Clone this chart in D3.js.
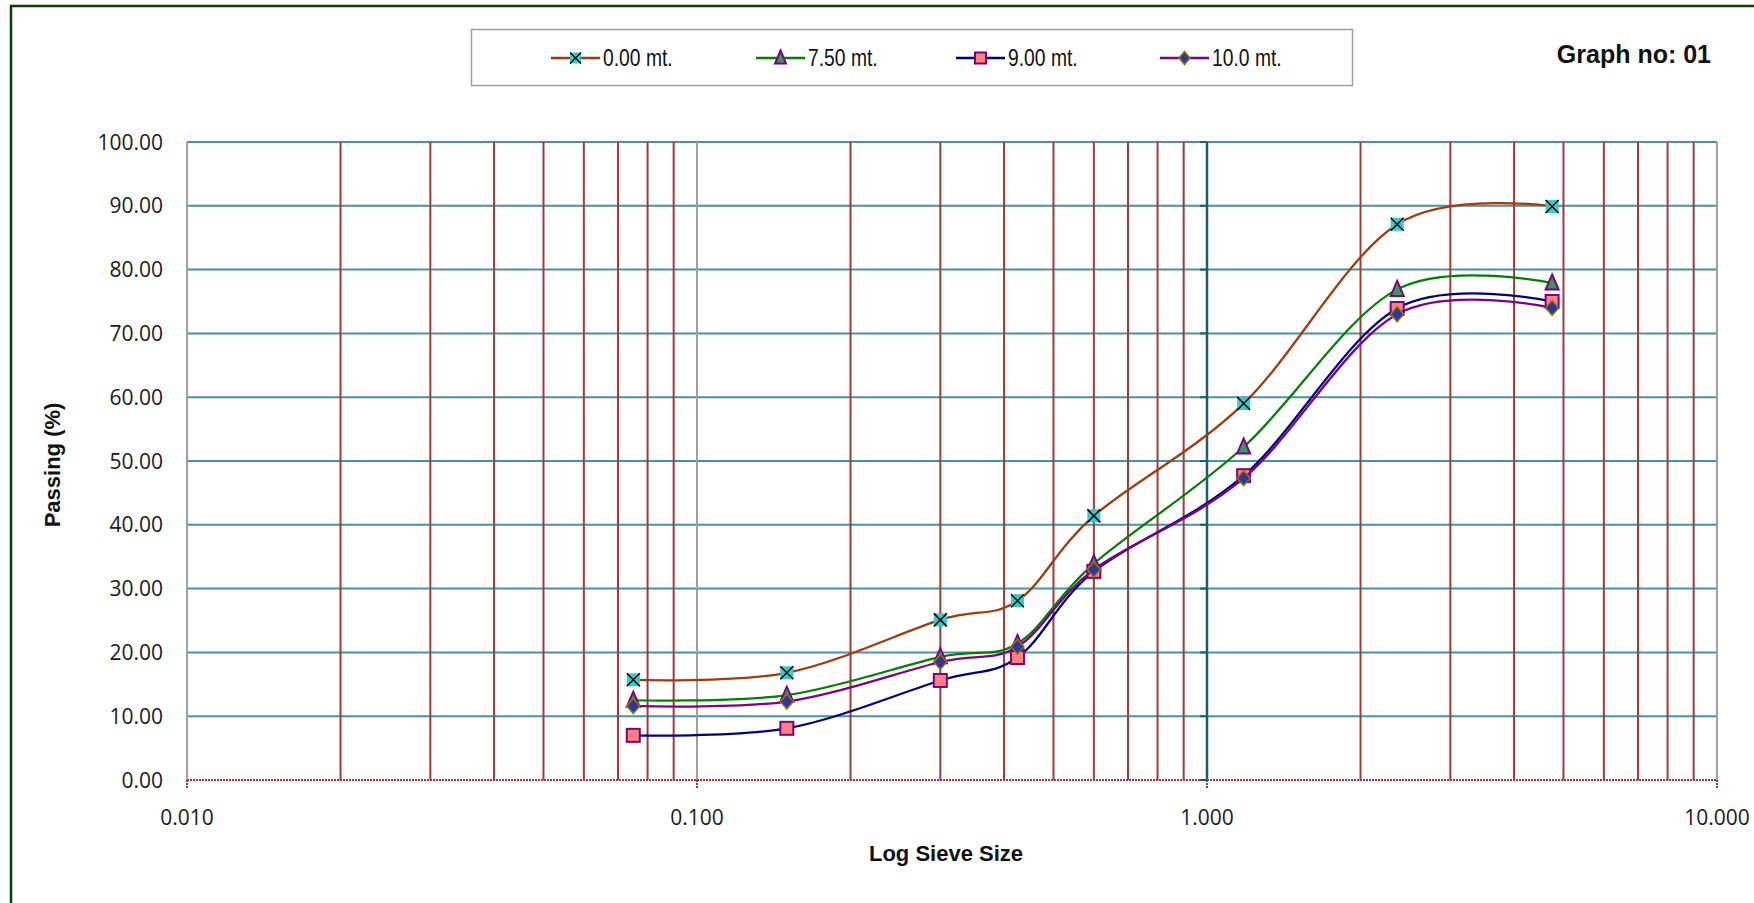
<!DOCTYPE html>
<html>
<head>
<meta charset="utf-8">
<script src="https://cdn.jsdelivr.net/npm/d3@7"></script>
<style>
  html, body { margin: 0; padding: 0; background: #ffffff; }
  svg { display: block; }
</style>
</head>
<body>
<svg id="chart" width="1754" height="903"></svg>
<script>
// ---- data ----
const sieveSizes = [0.075, 0.150, 0.300, 0.425, 0.600, 1.18, 2.36, 4.75];
const seriesNames = ["0.00 mt.", "7.50 mt.", "9.00 mt.", "10.0 mt."];
const passing000 = [15.7, 16.8, 25.1, 28.1, 41.4, 59.0, 87.1, 89.9];
const passing750 = [12.5, 13.3, 19.3, 21.4, 33.9, 52.2, 76.9, 77.9];
const passing900 = [7.0, 8.1, 15.6, 19.2, 32.7, 47.7, 73.9, 75.0];
const passing1000 = [11.6, 12.3, 18.5, 20.9, 33.0, 47.3, 73.0, 74.0];
const xMajorTicks = [0.01, 0.1, 1, 10];
const yTickLabels = ["0.00","10.00","20.00","30.00","40.00","50.00","60.00","70.00","80.00","90.00","100.00"];
const chartTitle = "Graph no: 01";
const xTitle = "Log Sieve Size";
const yTitle = "Passing (%)";

// ---- styles ----
const styles = [
  { line: "#A33A0B", marker: "x", fill: "#33CCCC", stroke: "#000000" },
  { line: "#008000", marker: "tri", fill: "#339966", stroke: "#800080" },
  { line: "#000080", marker: "sq", fill: "#FF8080", stroke: "#800080" },
  { line: "#800080", marker: "dia", fill: "#333399", stroke: "#808000" }
];
const seriesValues = [passing000, passing750, passing900, passing1000];

const svg = d3.select("#chart");
const L = 187, R = 1717, T = 142, B = 780;
const x = d3.scaleLog().domain([0.01, 10]).range([L, R]);
const y = d3.scaleLinear().domain([0, 100]).range([B, T]);

svg.append("rect").attr("x", 0).attr("y", 0).attr("width", 1754).attr("height", 903).attr("fill", "#fff");
// outer frame
svg.append("rect").attr("x", 11).attr("y", 6).attr("width", 1754).attr("height", 1000)
  .attr("fill", "none").attr("stroke", "#0B3D0B").attr("stroke-width", 2.5);

const g = svg.append("g");

// horizontal gridlines
const yTicks = y.ticks(10);
g.selectAll(".hg").data(yTicks.filter(d => d > 0)).enter().append("line")
  .attr("x1", L).attr("x2", R).attr("y1", d => y(d)).attr("y2", d => y(d))
  .attr("stroke", "#4A92A3").attr("stroke-width", 2);

// vertical gridlines
const allX = x.ticks();
const isMajor = d => Math.abs(Math.log10(d) - Math.round(Math.log10(d))) < 1e-9;
g.selectAll(".vmin").data(allX.filter(d => !isMajor(d))).enter().append("line")
  .attr("x1", d => x(d)).attr("x2", d => x(d)).attr("y1", T).attr("y2", B)
  .attr("stroke", "#A23A3A").attr("stroke-width", 2);
g.selectAll(".vmaj").data(xMajorTicks.filter(d => d !== 1)).enter().append("line")
  .attr("x1", d => x(d)).attr("x2", d => x(d)).attr("y1", T).attr("y2", B)
  .attr("stroke", "#A0A0A0").attr("stroke-width", 2);

// x axis (dotted red) at 0
g.append("line").attr("x1", L).attr("x2", R).attr("y1", y(0)).attr("y2", y(0))
  .attr("stroke", "#B03535").attr("stroke-width", 2).attr("stroke-dasharray", "2,1");
g.selectAll(".xt").data(xMajorTicks).enter().append("line")
  .attr("x1", d => x(d)).attr("x2", d => x(d)).attr("y1", y(0)).attr("y2", y(0) + 8)
  .attr("stroke", "#B03535").attr("stroke-width", 2).attr("stroke-dasharray", "2,1");

// y axis line at 1.0 with ticks
g.append("line").attr("x1", x(1)).attr("x2", x(1)).attr("y1", T).attr("y2", B)
  .attr("stroke", "#1F5B6A").attr("stroke-width", 2.5);
g.selectAll(".yt").data(yTicks).enter().append("line")
  .attr("x1", x(1) - 7).attr("x2", x(1)).attr("y1", d => y(d)).attr("y2", d => y(d))
  .attr("stroke", "#1F5B6A").attr("stroke-width", 2);

// tick labels
const tickFont = "'Open Sans', 'Noto Sans', sans-serif";
g.selectAll(".yl").data(yTicks).enter().append("text")
  .attr("x", 163).attr("y", d => y(d)).attr("dy", "0.36em")
  .attr("text-anchor", "end").attr("font-family", tickFont).attr("font-size", 21)
  .attr("fill", "#1a1a1a").text((d, i) => yTickLabels[i]);
g.selectAll(".xl").data(xMajorTicks).enter().append("text")
  .attr("x", d => x(d)).attr("y", 825)
  .attr("text-anchor", "middle").attr("font-family", tickFont).attr("font-size", 21)
  .attr("fill", "#1a1a1a").text(d => d3.format(".3f")(d));

// axis titles
const titleFont = "'Liberation Sans', Arial, sans-serif";
svg.append("text").attr("x", (L + R) / 2 - 6).attr("y", 861).attr("text-anchor", "middle")
  .attr("font-family", titleFont).attr("font-weight", "bold").attr("font-size", 22)
  .attr("fill", "#111").text(xTitle);
svg.append("text").attr("transform", `translate(60,${(T + B) / 2 + 4}) rotate(-90)`)
  .attr("text-anchor", "middle").attr("font-family", titleFont).attr("font-weight", "bold")
  .attr("font-size", 22).attr("fill", "#111").text(yTitle);
svg.append("text").attr("x", 1711).attr("y", 63).attr("text-anchor", "end")
  .attr("font-family", titleFont).attr("font-weight", "bold").attr("font-size", 25)
  .attr("fill", "#111").text(chartTitle);

// marker drawing
function drawMarker(sel, st, cx, cy, s) {
  if (st.marker === "x") {
    const h = s / 2;
    sel.append("rect").attr("x", cx - h).attr("y", cy - h).attr("width", s).attr("height", s).attr("fill", st.fill);
    sel.append("path").attr("d", `M${cx - h},${cy - h}L${cx + h},${cy + h}M${cx + h},${cy - h}L${cx - h},${cy + h}`)
      .attr("stroke", st.stroke).attr("stroke-width", 1.5);
  } else if (st.marker === "tri") {
    const h = s / 2 + 1;
    sel.append("path").attr("d", `M${cx},${cy - h - 1}L${cx + h - 1},${cy + h - 1}L${cx - h + 1},${cy + h - 1}Z`)
      .attr("fill", st.fill).attr("stroke", st.stroke).attr("stroke-width", 2);
  } else if (st.marker === "sq") {
    const h = s / 2;
    sel.append("rect").attr("x", cx - h).attr("y", cy - h).attr("width", s).attr("height", s)
      .attr("fill", st.fill).attr("stroke", st.stroke).attr("stroke-width", 2);
  } else {
    const h = s / 2 + 1;
    sel.append("path").attr("d", `M${cx},${cy - h}L${cx + h - 1},${cy}L${cx},${cy + h}L${cx - h + 1},${cy}Z`)
      .attr("fill", st.fill).attr("stroke", st.stroke).attr("stroke-width", 1.5);
  }
}

// series
const line = d3.line().x(d => x(d[0])).y(d => y(d[1])).curve(d3.curveCatmullRom.alpha(0));
seriesValues.forEach((vals, i) => {
  const pts = sieveSizes.map((s, j) => [s, vals[j]]);
  const sg = g.append("g");
  sg.append("path").attr("d", line(pts)).attr("fill", "none")
    .attr("stroke", styles[i].line).attr("stroke-width", 2.25);
  pts.forEach(p => drawMarker(sg, styles[i], x(p[0]), y(p[1]), 13));
});

// legend
svg.append("rect").attr("x", 471.5).attr("y", 29.5).attr("width", 881).attr("height", 56)
  .attr("fill", "#fff").attr("stroke", "#A0A0A0").attr("stroke-width", 1.5);
const legendX = [551, 756, 956, 1160];
const ly = 58;
seriesNames.forEach((n, i) => {
  const lg = svg.append("g");
  lg.append("line").attr("x1", legendX[i]).attr("x2", legendX[i] + 49).attr("y1", ly).attr("y2", ly)
    .attr("stroke", styles[i].line).attr("stroke-width", 2.5);
  drawMarker(lg, styles[i], legendX[i] + 24.5, ly, 11);
  lg.append("text").attr("transform", `translate(${legendX[i] + 52},${ly}) scale(0.84,1)`)
    .attr("dy", "0.36em")
    .attr("font-family", "'Liberation Sans', Arial, sans-serif")
    .attr("font-size", 23).attr("fill", "#111").text(n);
});
</script>
</body>
</html>
